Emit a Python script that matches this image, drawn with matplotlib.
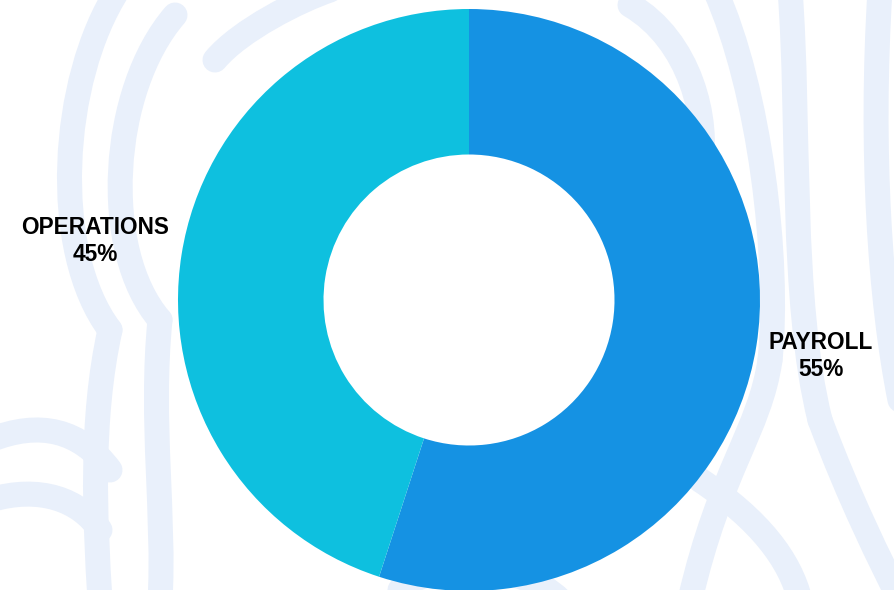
import numpy as np
import matplotlib.pyplot as plt
from matplotlib.path import Path
from matplotlib.patches import PathPatch

# budget split
categories = ['PAYROLL', 'OPERATIONS']
shares = [55, 45]
colors = ['#1592E3', '#0EC0DF']
label_dist = [1.225, 1.30]

plt.rcParams['font.family'] = ['Liberation Sans', 'DejaVu Sans']

fig = plt.figure(figsize=(8.94, 5.90), dpi=100)
fig.patch.set_facecolor('white')

# faint decorative strokes behind the chart (pixel coords, y down)
bg = fig.add_axes([0, 0, 1, 1], zorder=0)
bg.set_xlim(0, 894)
bg.set_ylim(590, 0)
bg.axis('off')

C4 = Path.CURVE4
strokes = [
    [(118, -10), (60, 80), (50, 250), (110, 330)],
    [(175, 15), (110, 90), (100, 250), (160, 320)],
    [(110, 330), (90, 420), (95, 520), (100, 600)],
    [(160, 320), (150, 420), (165, 520), (160, 600)],
    [(-10, 440), (40, 420), (80, 430), (110, 470)],
    [(-10, 500), (40, 485), (80, 500), (100, 530)],
    [(215, 60), (240, 30), (300, 0), (330, -10)],
    [(630, 5), (690, 40), (710, 120), (700, 170)],
    [(715, -10), (760, 90), (780, 260), (770, 360)],
    [(770, 360), (760, 430), (720, 470), (690, 600)],
    [(790, -10), (800, 120), (790, 300), (820, 420)],
    [(820, 420), (850, 500), (880, 560), (900, 600)],
    [(880, -10), (870, 150), (880, 300), (900, 400)],
    [(700, 480), (760, 520), (790, 560), (800, 600)],
    [(400, 590), (430, 560), (520, 560), (560, 600)],
]
for pts in strokes:
    path = Path(pts, [Path.MOVETO, C4, C4, C4])
    bg.add_patch(PathPatch(path, facecolor='none', edgecolor='#E9F0FB',
                           lw=18, capstyle='round', joinstyle='round'))

# donut, centred at (469, 300) px with radius 291 px
R = 291.0
ax = fig.add_axes([0, 0, 1, 1], zorder=1)
ax.patch.set_alpha(0)
wedges, _ = ax.pie(shares, colors=colors, startangle=90, counterclock=False,
                   radius=1.0, wedgeprops=dict(width=0.5, linewidth=0))
ax.set_xlim(-469 / R, (894 - 469) / R)
ax.set_ylim(-(590 - 300) / R, 300 / R)
ax.set_aspect('equal')
ax.axis('off')

for w, name, val, d in zip(wedges, categories, shares, label_dist):
    mid = np.deg2rad((w.theta1 + w.theta2) / 2)
    ax.text(d * np.cos(mid), d * np.sin(mid), f'{name}\n{val}%',
            ha='center', va='center', fontsize=16.3, fontweight='bold',
            color='black', linespacing=1.2)

fig.savefig('out.png', dpi=100)
